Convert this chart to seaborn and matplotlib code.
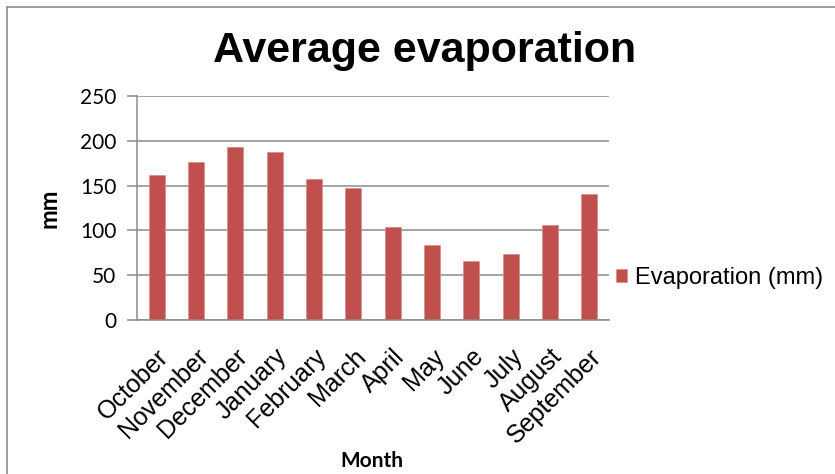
import matplotlib
matplotlib.use("Agg")
import matplotlib.pyplot as plt
from matplotlib.lines import Line2D
import seaborn as sns
import pandas as pd

months = ["October", "November", "December", "January", "February", "March",
          "April", "May", "June", "July", "August", "September"]
evaporation = [162, 176, 193.5, 188, 157.5, 147.5, 104, 84, 66, 74, 106.5, 140.5]
y_ticks = [0, 50, 100, 150, 200, 250]
series_name = "Evaporation (mm)"

df = pd.DataFrame({"Month": months, "Evaporation": evaporation})

sns.set_style("white")
plt.rcParams["font.family"] = ["Liberation Sans", "DejaVu Sans"]
plt.rcParams["text.color"] = "black"
plt.rcParams["axes.labelcolor"] = "black"
plt.rcParams["xtick.color"] = "black"
plt.rcParams["ytick.color"] = "black"

fig = plt.figure(figsize=(8.35, 4.74), dpi=100)
ax = fig.add_axes([137 / 835, 1 - 320 / 474, 472 / 835, 224 / 474])

bar_color = "#C0504D"
sns.barplot(data=df, x="Month", y="Evaporation", color=bar_color, width=0.4,
            saturation=1, label=series_name, ax=ax,
            edgecolor="#D9908E", linewidth=0.6)

ax.set_ylim(0, 250)
ax.set_xlim(-0.5, len(months) - 0.5)
ax.set_yticks(y_ticks)
ax.set_yticklabels([str(v) for v in y_ticks], fontfamily="Lato", fontsize=15)
ax.yaxis.grid(True, color="#8C8C8C", linewidth=1.1)
ax.set_axisbelow(True)

for side in ["top", "right"]:
    ax.spines[side].set_visible(False)
for side in ["left", "bottom"]:
    ax.spines[side].set_color("#8C8C8C")
    ax.spines[side].set_linewidth(1.1)

ax.tick_params(axis="y", which="major", left=True, length=7, width=1.1,
               color="#8C8C8C", pad=8, labelcolor="black")
ax.tick_params(axis="x", bottom=False, pad=14, labelcolor="black")
plt.setp(ax.get_xticklabels(), rotation=45, ha="right",
         rotation_mode="anchor", fontsize=18)

ax.set_xlabel("Month", fontfamily="Lato", fontweight="bold", fontsize=15)
ax.set_ylabel("mm", fontfamily="Lato", fontweight="bold", fontsize=17)
ax.xaxis.set_label_coords((372 - 137) / 472, -(451 - 320) / 224)
ax.yaxis.set_label_coords((49 - 137) / 472, (320 - 208) / 224)
ax.xaxis.label.set_va("top")
ax.yaxis.label.set_va("center")

fig.text(425 / 835, 1 - 51 / 474, "Average evaporation", ha="center",
         va="center", fontsize=31, fontweight="bold", color="black")

ax.legend(loc="center left", bbox_to_anchor=(1.0, 0.1875), frameon=False,
          fontsize=17, handlelength=0.45, handleheight=0.45, handletextpad=0.35,
          borderaxespad=0.0, borderpad=0.3, labelcolor="black")

# chart frame
fig.add_artist(Line2D([7 / 835, 7 / 835], [0, 1 - 7 / 474],
                      transform=fig.transFigure, color="#8C8C8C", linewidth=1.2))
fig.add_artist(Line2D([7 / 835, 1], [1 - 7 / 474, 1 - 7 / 474],
                      transform=fig.transFigure, color="#8C8C8C", linewidth=1.2))

fig.savefig("out.png", dpi=100)
